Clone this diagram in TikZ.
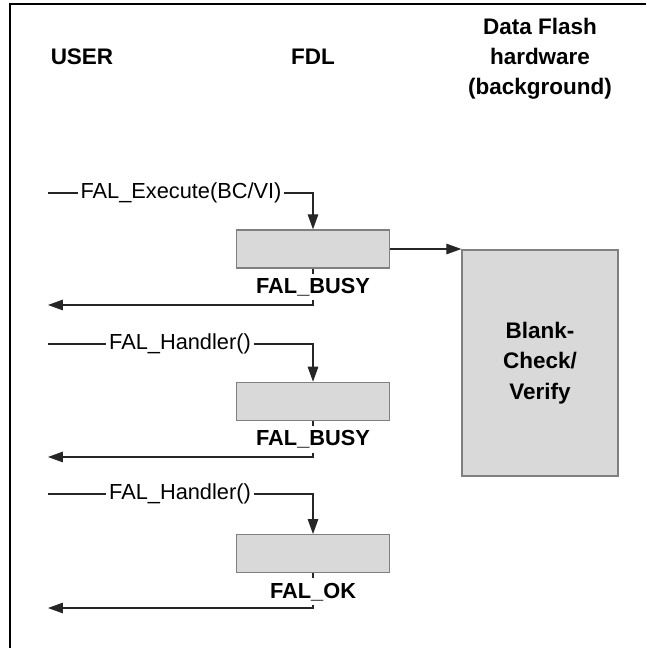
\documentclass[tikz,border=0pt]{standalone}
\usepackage{fontspec}
\setmainfont{Liberation Sans}
\usepackage{xcolor}
\usetikzlibrary{positioning,arrows.meta}

\begin{document}
\begin{tikzpicture}[x=0.02cm, y=-0.02cm, node distance = 0.1cm]
            \tikzstyle{head} = [font=\fontsize{12.8}{17.2}\selectfont\bfseries, align=center];
            \tikzstyle{call} = [font=\fontsize{12.4}{14}\selectfont, inner sep=1.5pt];
            \tikzstyle{status} = [font=\fontsize{12.4}{14}\selectfont\bfseries, inner sep=2.3pt];
            \tikzstyle{fdlbox} = [draw=black!50, fill=black!15, line width=0.8pt, minimum width=3.06cm, minimum height=0.76cm];
            \tikzstyle{hwbox} = [head, draw=black!50, fill=black!15, line width=0.8pt, minimum width=3.12cm, minimum height=4.52cm];
            \tikzstyle{wire} = [draw=black!85, line width=0.6pt];
            \tikzstyle{tip} = [wire, -{Triangle[length=8.5pt, width=6pt]}];

            \useasboundingbox (0,0) rectangle (646,648);
            \draw [line width=1.2pt] (646,4) -- (10,4) -- (10,648);

            \node [head] (user) at (82,57) {USER};
            \node [head] (fdl) at (313,57) {FDL};
            \node [head] (hw) at (540,59) {Data Flash\\hardware\\(background)};

            \node [fdlbox] (B1) at (313,249) {};
            \node [fdlbox, below = 2.26cm of B1] (B2) {};
            \node [fdlbox, below = 2.26cm of B2] (B3) {};

            \node [hwbox] (BC) at (540,363) {Blank-\\Check/\\Verify};

            \node [status, below = of B1] (S1) {FAL\_BUSY};
            \node [status, below = of B2] (S2) {FAL\_BUSY};
            \node [status, below = of B3] (S3) {FAL\_OK};

            \node [call] (C1) at (181,193) {FAL\_Execute(BC/VI)};
            \node [call] (C2) at (180,344) {FAL\_Handler()};
            \node [call] (C3) at (180,494) {FAL\_Handler()};

            \coordinate (in1) at (48,193);
            \coordinate (in2) at (48,344);
            \coordinate (in3) at (48,494);
            \coordinate (out1) at (48,305);
            \coordinate (out2) at (48,457);
            \coordinate (out3) at (48,608);

            \draw [wire] (in1) -- (C1);
            \draw [tip] (C1) -| (B1);
            \draw [wire] (B1) -- (S1);
            \draw [tip] (S1) |- (out1);
            \draw [tip] (B1) -- (B1 -| BC.west);

            \draw [wire] (in2) -- (C2);
            \draw [tip] (C2) -| (B2);
            \draw [wire] (B2) -- (S2);
            \draw [tip] (S2) |- (out2);

            \draw [wire] (in3) -- (C3);
            \draw [tip] (C3) -| (B3);
            \draw [wire] (B3) -- (S3);
            \draw [tip] (S3) |- (out3);
\end{tikzpicture}
\end{document}
